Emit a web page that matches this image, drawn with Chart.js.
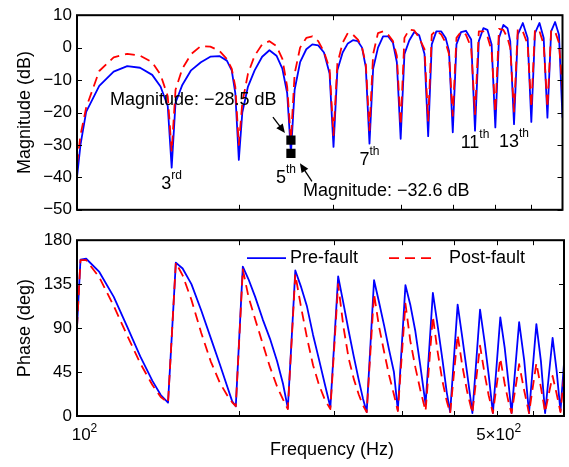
<!DOCTYPE html>
<html><head><meta charset="utf-8">
<script src="https://cdn.jsdelivr.net/npm/chart.js@4/dist/chart.umd.min.js"></script>
<style>
html,body{margin:0;padding:0;background:#fff;}
#wrap{position:relative;width:569px;height:467px;overflow:hidden;background:#fff;}
canvas{position:absolute;left:0;}
#c1{top:0;}
#c2{top:225px;}
</style></head><body>
<div id="wrap"><canvas id="c1" width="569" height="225"></canvas><canvas id="c2" width="569" height="242"></canvas></div>
<script>
// ---------------- data ----------------
const freqHz = [100,101.5,104,110,117,124,131,138,143,147.5, 150, 152.5,157,163,170,177,184,190,194,197, 200, 203,208,214,221,228,235,241,246, 250, 254,260,267,274,281,288,295, 300, 305,312,319,326,333,339,344.5, 350, 355.5,363,371,379,387,393.5, 400, 406.5,415,424,433,443, 450, 457,466,476,485,492, 500, 508,518,529,541, 550, 559,570,580,590.5, 600, 609.5,621,632,639.5, 650, 660.5,675,689, 700, 711,725,738, 750, 762,775,788, 800];
const preMagDb = [-40,-30,-19.8,-11.8,-7.4,-5.7,-6.2,-8.4,-12,-18, -37, -17,-11.5,-7,-4.5,-2.8,-2.6,-4,-7,-14, -34.6, -20,-12,-7,-2.8,-0.8,-2.5,-6.5,-14, -32.6, -13,-4.5,-0.5,1,0.7,-1.5,-8, -30.6, -7,-1.5,1.3,2.3,2,0,-6, -29.6, -6.5,0,3.5,3.5,1.5,-4.5, -28.1, -2,2.2,4.8,3.8,-2, -27.3, 1,5,5,3,-1, -26.1, 1,4.8,5.2,2.5, -25.6, 2,6,5.5,1, -24.6, 3,7,6,2, -23.6, 4,7.6,3, -22.9, 4.5,7.6,3, -21.6, 5,7.9,4, -21.6];
const postMagDb = [-36,-27,-18.5,-7.2,-3,-1.9,-2.5,-4.5,-8.3,-15, -32, -13,-6.5,-2,0.5,0.3,-1,-3.5,-6.5,-12, -30, -17,-8,-2.5,1,2,0.5,-3.5,-12, -28.5, -8,0,3,3.5,2,-1.3,-6.5, -27, -5,1.5,4.5,4,2.5,0,-5, -25.5, -2,4.5,5,4,2,-2.5, -24, 3,5.6,5.3,3,-0.5, -22.5, 4,5.3,4,1.5,-2, -21, 3,4.9,4,0, -20.5, 5,5,3.5,-1, -20, 5.8,5.5,3,0, -19.7, 5.6,5,1, -18.5, 5.6,5,1, -18.5, 5.3,5,1.5, -13];
const prePhaseDeg = [91,160,161,147.5,122,91,61,36,21.5,13.6, 85, 157,151,135,108,80,53,30,15,10, 82, 153,140,122,99,79,56,33,8, 78, 149,133,112,83,58,33,9, 76, 143,115,87,61,37,18,4, 72, 139,117,93,68,45,6, 70, 134,114,87,52,12, 69, 126,94,58,24,4, 59, 114,81,44,3, 56, 109,76,42,3, 52, 101,70,31,3, 50, 96,57,3, 49, 94,56,3, 42, 80,47,5, 54];
const postPhaseDeg = [91,159.5,159.5,142,112.6,82,54,31.7,19.5,13.6, 85, 157,144,119,85,56,34,21,14,10, 80, 150,122,99,74,50,30,17,7, 76, 145,113,80,52,32,17,7, 71, 135,91,59,38,22,11,4, 65, 125,92,66,42,22,5, 60, 115,77,50,27,5, 54, 102,67,36,15,3, 43, 83,52,25,3, 38, 72,43,21,3, 31, 59,33,13,3, 28, 53,26,3, 29, 54,29,4, 23, 41,23,4, 40];
const seriesNames = ['Pre-fault','Post-fault'];
const magTicks = [10,0,-10,-20,-30,-40,-50];
const phaseTicks = [0,45,90,135,180];
const xMinorTicks = [200,300,400,500,600,700];
const xTickLabels = [{value:100, base:'10', sup:'2'}, {value:600, base:'5\u00d710', sup:'2'}];
const markerFreq = [250,250];
const markerMag = [-28.5,-32.6];
const fundamentalHz = 50;
const harmonicOrders = [3,5,7,11,13];
const harmonicLabelDb = [-43.7,-41.6,-36.1,-31,-30.7];
const yTitles = ['Magnitude (dB)','Phase (deg)'];
const xTitle = 'Frequency (Hz)';

// ---------------- helpers ----------------
const FONT = '"Liberation Sans", Arial, Helvetica, sans-serif';
const BLUE = '#0000ff', RED = '#ff0000';
const fmt = v => (v < 0 ? '\u2212' + Math.abs(v) : String(v));
const pts = ys => freqHz.map((f,i)=>({x:f, y:ys[i]}));
const ordSuffix = n => (n % 10 === 3 && n !== 13 ? 'rd' : (n % 10 === 1 && n !== 11 ? 'st' : (n % 10 === 2 && n !== 12 ? 'nd' : 'th')));

function drawSup(ctx, base, sup, x, y, align, size, supSize, rise){
  ctx.font = size + 'px ' + FONT; const wb = ctx.measureText(base).width;
  ctx.font = supSize + 'px ' + FONT; const ws = ctx.measureText(sup).width;
  const sx = align === 'center' ? x - (wb + ws) / 2 : x;
  ctx.textAlign = 'left'; ctx.textBaseline = 'alphabetic';
  ctx.font = size + 'px ' + FONT; ctx.fillText(base, sx, y);
  ctx.font = supSize + 'px ' + FONT; ctx.fillText(sup, sx + wb, y - rise);
}
function arrow(ctx, x0, y0, x1, y1){
  const a = Math.atan2(y1 - y0, x1 - x0), L = 9, W = 4;
  const bx = x1 - L * Math.cos(a), by = y1 - L * Math.sin(a);
  ctx.lineWidth = 1.3;
  ctx.beginPath(); ctx.moveTo(x0, y0); ctx.lineTo(bx + 2*Math.cos(a), by + 2*Math.sin(a)); ctx.stroke();
  ctx.beginPath(); ctx.moveTo(x1, y1);
  ctx.lineTo(bx + W * Math.sin(a), by - W * Math.cos(a));
  ctx.lineTo(bx - W * Math.sin(a), by + W * Math.cos(a));
  ctx.closePath(); ctx.fill();
}

const framePlugin = {id:'frame', afterDraw(chart){
  const {ctx, chartArea:{left,right,top,bottom}, scales:{x,y}} = chart;
  ctx.save();
  ctx.strokeStyle = '#000'; ctx.lineWidth = 1;
  ctx.beginPath();
  xMinorTicks.forEach(v => { const px = Math.round(x.getPixelForValue(v)) + 0.5;
    ctx.moveTo(px, bottom); ctx.lineTo(px, bottom - 5); ctx.moveTo(px, top); ctx.lineTo(px, top + 5); });
  y.ticks.forEach(t => { const py = Math.round(y.getPixelForValue(t.value)) + 0.5;
    ctx.moveTo(left, py); ctx.lineTo(left + 5, py); ctx.moveTo(right, py); ctx.lineTo(right - 5, py); });
  ctx.stroke();
  ctx.lineWidth = 2; ctx.strokeRect(left, top, right - left, bottom - top);
  ctx.restore();
}};

const magAnnotPlugin = {id:'magAnnot', afterDraw(chart){
  const {ctx, scales:{x,y}} = chart;
  ctx.save(); ctx.fillStyle = '#000'; ctx.strokeStyle = '#000';
  harmonicOrders.forEach((n,i) => {
    const px = x.getPixelForValue(n * fundamentalHz) + (n === 5 ? -5 : 0);
    const py = y.getPixelForValue(harmonicLabelDb[i]);
    drawSup(ctx, String(n), ordSuffix(n), px, py, 'center', 18, 12, 10);
  });
  const m1 = {x:x.getPixelForValue(markerFreq[0]), y:y.getPixelForValue(markerMag[0])};
  const m2 = {x:x.getPixelForValue(markerFreq[1]), y:y.getPixelForValue(markerMag[1])};
  ctx.font = '18px ' + FONT; ctx.textAlign = 'left'; ctx.textBaseline = 'middle';
  ctx.fillText('Magnitude: ' + fmt(markerMag[0]) + ' dB', m1.x - 181, m1.y - 40);
  ctx.fillText('Magnitude: ' + fmt(markerMag[1]) + ' dB', m2.x + 12, m2.y + 38);
  arrow(ctx, m1.x - 18, m1.y - 23, m1.x - 6, m1.y - 7);
  arrow(ctx, m2.x + 21, m2.y + 28, m2.x + 9, m2.y + 10);
  ctx.restore();
}};

const phaseAnnotPlugin = {id:'phaseAnnot', afterDraw(chart){
  const {ctx, chartArea:{left,right,top,bottom}, scales:{x}} = chart;
  ctx.save(); ctx.fillStyle = '#000';
  // legend
  const ly = top + 18;
  ctx.lineWidth = 1.8;
  ctx.strokeStyle = BLUE; ctx.setLineDash([]);
  ctx.beginPath(); ctx.moveTo(247, ly); ctx.lineTo(286, ly); ctx.stroke();
  ctx.strokeStyle = RED; ctx.setLineDash([10,6]);
  ctx.beginPath(); ctx.moveTo(389, ly); ctx.lineTo(431, ly); ctx.stroke();
  ctx.setLineDash([]);
  ctx.font = '18px ' + FONT; ctx.textAlign = 'left'; ctx.textBaseline = 'middle';
  ctx.fillText(seriesNames[0], 290, ly);
  ctx.fillText(seriesNames[1], 449, ly);
  // x tick labels
  const shift = [7.5, 2];
  xTickLabels.forEach((t,i) => {
    drawSup(ctx, t.base, t.sup, x.getPixelForValue(t.value) + shift[i], bottom + 24, 'center', 17, 12, 8);
  });
  // x title
  ctx.font = '18px ' + FONT; ctx.textAlign = 'center'; ctx.textBaseline = 'middle';
  ctx.fillText(xTitle, (left + right) / 2 + 11.5, bottom + 34);
  ctx.restore();
}};

function yScale(min, max, ticksArr, title){
  return {
    min, max,
    afterBuildTicks: s => { s.ticks = ticksArr.map(v => ({value:v})); },
    afterFit: s => { s.width = 77; },
    grid:{display:false, drawTicks:false}, border:{display:false},
    ticks:{padding:5, color:'#000', font:{family:FONT, size:17}, callback: v => fmt(v), autoSkip:false},
    title:{display:true, text:title, color:'#000', font:{family:FONT, size:18, lineHeight:1.2}, padding:{top:14, bottom:0}}
  };
}
const common = (pad) => ({
  responsive:false, animation:false, events:[],
  layout:{padding:pad},
  plugins:{legend:{display:false}, tooltip:{enabled:false}},
  elements:{line:{borderJoinStyle:'round', tension:0}, point:{radius:0}}
});

const o1 = common({left:0, right:5, top:12, bottom:14});
o1.scales = { x:{type:'logarithmic', min:100, max:800, display:false}, y:yScale(-50, 10, magTicks, yTitles[0]) };
new Chart(document.getElementById('c1'), {
  type:'line',
  data:{datasets:[
    {label:'markers', data: markerFreq.map((f,i)=>({x:f, y:markerMag[i]})), showLine:false, pointStyle:'rect', pointRadius:6.5, backgroundColor:'#000', borderColor:'#000', borderWidth:0, order:-1},
    {label:seriesNames[1], data:pts(postMagDb), borderColor:RED, borderWidth:1.8, borderDash:[10,6], pointRadius:0, order:0},
    {label:seriesNames[0], data:pts(preMagDb), borderColor:BLUE, borderWidth:1.8, pointRadius:0, order:1}
  ]},
  options:o1,
  plugins:[framePlugin, magAnnotPlugin]
});

const o2 = common({left:0, right:5, top:15, bottom:51});
o2.scales = { x:{type:'logarithmic', min:100, max:800, display:false}, y:yScale(0, 180, phaseTicks, yTitles[1]) };
new Chart(document.getElementById('c2'), {
  type:'line',
  data:{datasets:[
    {label:seriesNames[1], data:pts(postPhaseDeg), borderColor:RED, borderWidth:1.8, borderDash:[10,6], pointRadius:0, order:0},
    {label:seriesNames[0], data:pts(prePhaseDeg), borderColor:BLUE, borderWidth:1.8, pointRadius:0, order:1}
  ]},
  options:o2,
  plugins:[framePlugin, phaseAnnotPlugin]
});
</script>
</body></html>
